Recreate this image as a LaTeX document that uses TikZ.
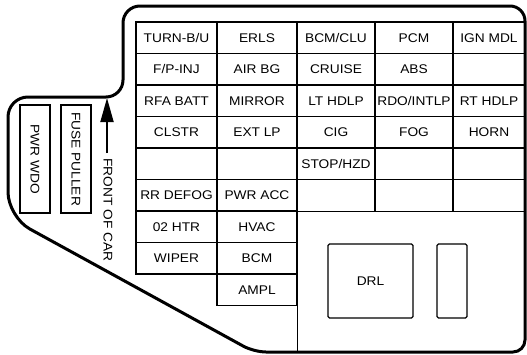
\documentclass[tikz,border=0pt]{standalone}
\usepackage{fontspec}
\setmainfont{Liberation Sans}[FakeStretch=1.09]
\usetikzlibrary{arrows.meta}
\begin{document}
\begin{tikzpicture}[x=1pt,y=-1pt,
  lbl/.style={font=\fontsize{12.6}{14}\selectfont},
  cell/.style={draw, line width=1.2pt, inner sep=0pt, minimum height=31.5pt, lbl},
  colA/.style={cell, minimum width=81pt},
  colB/.style={cell, minimum width=80pt},
  colC/.style={cell, minimum width=78pt},
  colD/.style={cell, minimum width=78pt},
  colE/.style={cell, minimum width=72pt},
  border/.style={line width=3pt, line join=round},
  slot/.style={draw, line width=1.3pt, rounded corners=1.5pt, inner sep=0pt, minimum height=74pt, lbl},
  sidebox/.style={draw, line width=1.2pt, inner sep=0pt, minimum width=30pt, minimum height=108pt}
]
\useasboundingbox (0,0) rectangle (527,354);
\foreach \r/\y/\a/\b/\c/\d/\e in {
  0/37.75/TURN-B\slash U/ERLS/BCM\slash CLU/PCM/IGN MDL,
  1/69.25/F\slash P-INJ/AIR BG/CRUISE/ABS/,
  2/100.75/RFA BATT/MIRROR/LT HDLP/RDO\slash INTLP/RT HDLP,
  3/132.25/CLSTR/EXT LP/CIG/FOG/HORN,
  4/164/ / /STOP\slash HZD/ / ,
  5/195.5/RR DEFOG/PWR ACC/ / / }{
  \node[colA] (a\r) at (176.5,\y) {\a};
  \node[colB] (b\r) at (257,\y) {\b};
  \node[colC] (c\r) at (336,\y) {\c};
  \node[colD] (d\r) at (414,\y) {\d};
  \node[colE] (e\r) at (489,\y) {\e};
}
\node[colA] (a6) at (176.5,226.75) {02 HTR};
\node[colA] (a7) at (176.5,258.25) {WIPER};
\node[colB] (b6) at (257,226.75) {HVAC};
\node[colB] (b7) at (257,258.25) {BCM};
\node[colB] (b8) at (257,289.75) {AMPL};
\coordinate (floor) at (297,352);
\draw[line width=1.2pt] (b8.south east) -- (b8.south east |- floor);
% relay slots
\node[slot, minimum width=85pt] (drl) at (370.5,281) {DRL};
\node[slot, minimum width=30pt] (slot2) at (452,281) {};
% side boxes
\node[sidebox] (pwrwdo) at (35,159) {};
\node[lbl, rotate=-90] (pwrwdotxt) at (pwrwdo) {PWR WDO};
\node[sidebox] (puller) at (76,159) {};
\node[lbl, rotate=-90] (pullertxt) at (puller) {FUSE PULLER};
% front arrow
\node[lbl, rotate=-90, inner sep=0pt] (front) at (108,210) {FRONT OF CAR};
\coordinate (tail) at (107,153);
\coordinate (tip) at (107,98);
\draw[line width=1.8pt, -{Triangle[length=24pt,width=13pt]}] (tail) -- (tip);
% outer outline
\draw[border]
  (400,352) [rounded corners=12pt] -- (525,352)
  [rounded corners=15pt] -- (525,6)
  [rounded corners=17pt] -- (123,6)
  [rounded corners=17pt] -- (123,97)
  [rounded corners=20pt] -- (8,97)
  [rounded corners=25pt] -- (8,217)
  [rounded corners=12pt] -- (254,352)
  [sharp corners] -- (400,352);
\end{tikzpicture}
\end{document}
